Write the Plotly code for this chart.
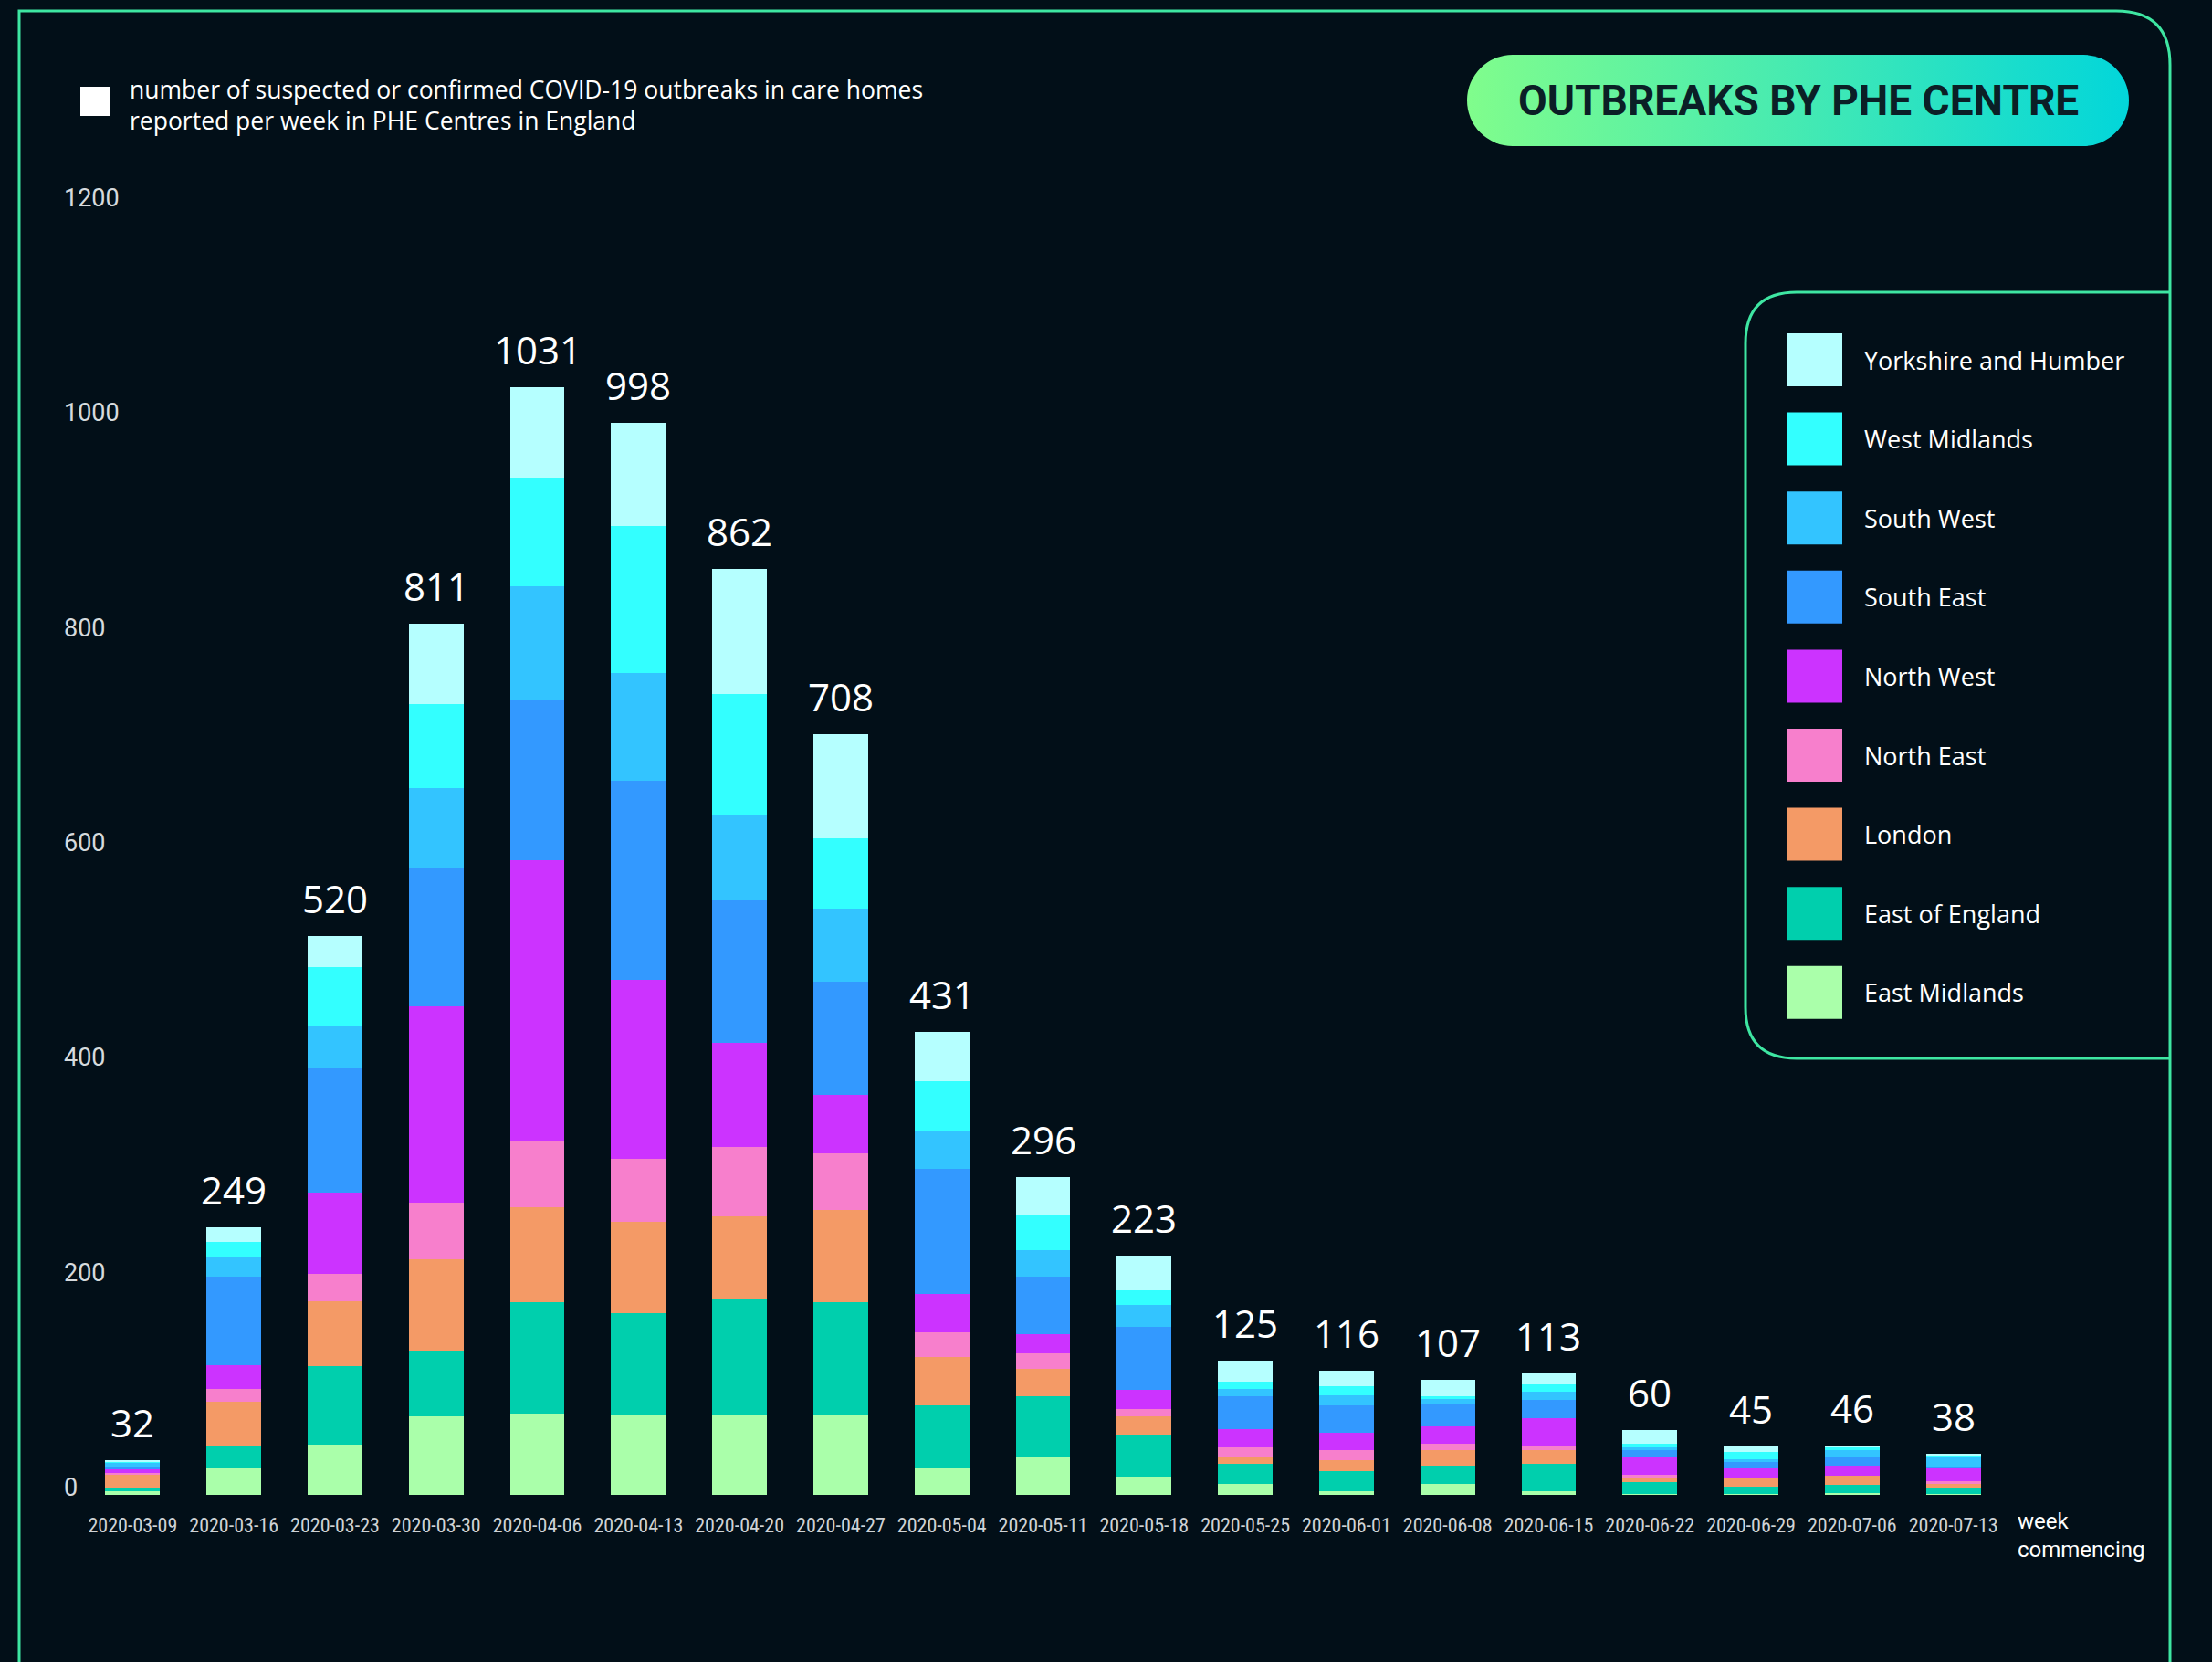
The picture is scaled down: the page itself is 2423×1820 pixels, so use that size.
import base64
import plotly.graph_objects as go

# ---------------- data ----------------
weeks = ["2020-03-09", "2020-03-16", "2020-03-23", "2020-03-30", "2020-04-06",
         "2020-04-13", "2020-04-20", "2020-04-27", "2020-05-04", "2020-05-11",
         "2020-05-18", "2020-05-25", "2020-06-01", "2020-06-08", "2020-06-15",
         "2020-06-22", "2020-06-29", "2020-07-06", "2020-07-13"]

east_midlands   = [3, 25, 47, 73, 76, 75, 74, 74, 25, 35, 17, 10, 3, 10, 3, 1, 1, 2, 1]
east_of_england = [4, 21, 73, 61, 103, 94, 108, 105, 58, 57, 39, 19, 19, 17, 26, 11, 7, 7, 5]
london          = [12, 41, 60, 85, 89, 85, 77, 86, 45, 25, 17, 7, 10, 15, 13, 3, 7, 9, 4]
north_east      = [1, 12, 26, 53, 62, 59, 65, 53, 23, 15, 7, 8, 10, 6, 4, 4, 0, 0, 3]
north_west      = [4, 22, 75, 183, 261, 166, 97, 54, 36, 18, 18, 17, 16, 16, 25, 16, 10, 9, 12]
south_east      = [2, 82, 116, 128, 149, 186, 132, 106, 116, 53, 58, 31, 25, 20, 17, 7, 6, 9, 1]
south_west      = [4, 19, 40, 75, 106, 100, 80, 68, 35, 25, 21, 7, 10, 5, 8, 2, 2, 6, 10]
west_midlands   = [1, 13, 54, 78, 101, 137, 112, 65, 47, 33, 13, 6, 8, 3, 7, 4, 7, 2, 1]
yorkshire       = [1, 14, 29, 75, 84, 96, 117, 97, 46, 35, 33, 20, 15, 15, 10, 12, 5, 2, 1]

region_names = ["East Midlands", "East of England", "London", "North East", "North West",
                "South East", "South West", "West Midlands", "Yorkshire and Humber"]
region_values = [east_midlands, east_of_england, london, north_east, north_west,
                 south_east, south_west, west_midlands, yorkshire]
region_colors = ["#aaffaa", "#00cfad", "#f49a66", "#f77fcc", "#cc33ff",
                 "#3399ff", "#33c4ff", "#33ffff", "#b5ffff"]

y_ticks = [0, 200, 400, 600, 800, 1000, 1200]

title_text = "OUTBREAKS BY PHE CENTRE"
subtitle_lines = ["number of suspected or confirmed COVID-19 outbreaks in care homes",
                  "reported per week in PHE Centres in England"]
x_caption = ["week", "commencing"]

# ---------------- layout geometry (pixels) ----------------
W, H = 2423, 1820
ML, MR, MT, MB = 90, 228, 225, 183
PW, PH = W - ML - MR, H - MT - MB
BG = "#020f18"
BORDER = "#3ee6a2"


def px(x):
    return (x - ML) / PW


def py(y):
    return (H - MB - y) / PH


totals = [sum(v[i] for v in region_values) for i in range(len(weeks))]

fig = go.Figure()
for name, vals, col in zip(region_names, region_values, region_colors):
    fig.add_trace(go.Bar(x=weeks, y=vals, name=name, marker=dict(color=col, line=dict(width=0)),
                         showlegend=False, hovertemplate=name + ": %{y}<extra></extra>"))

annotations = []
# totals above bars
for wk, tot in zip(weeks, totals):
    annotations.append(dict(x=wk, y=tot, xref="x", yref="y", text=str(tot), showarrow=False,
                            yanchor="bottom", yshift=11,
                            font=dict(family="Open Sans", size=42, color="#ffffff")))
# y tick labels (left aligned)
for t in y_ticks:
    annotations.append(dict(x=px(68), y=t, xref="paper", yref="y", text=str(t), showarrow=False,
                            xanchor="left", yanchor="middle", yshift=8,
                            font=dict(family="Roboto", size=27, color="#d6dadd")))
# subtitle (two lines in one text block)
annotations.append(dict(x=px(140), y=py(115), xref="paper", yref="paper", text="<br>".join(subtitle_lines),
                        showarrow=False, xanchor="left", yanchor="middle", align="left",
                        font=dict(family="Open Sans", size=26.5, color="#ffffff")))
# title
annotations.append(dict(x=px(1970), y=py(110), xref="paper", yref="paper", text="<b>" + title_text + "</b>",
                        showarrow=False, xanchor="center", yanchor="middle",
                        font=dict(family="Roboto", size=46, color="#0b1f26")))
# x caption
annotations.append(dict(x=px(2208), y=py(1681), xref="paper", yref="paper", text="<br>".join(x_caption),
                        showarrow=False, xanchor="left", yanchor="middle", align="left",
                        font=dict(family="Roboto", size=24, color="#ffffff")))

shapes = []
# custom legend (top = Yorkshire)
for k, idx in enumerate(reversed(range(len(region_names)))):
    y0 = 365 + 86.6 * k
    shapes.append(dict(type="rect", xref="paper", yref="paper", x0=px(1957), x1=px(2018),
                       y0=py(y0), y1=py(y0 + 58), fillcolor=region_colors[idx], line=dict(width=0)))
    annotations.append(dict(x=px(2040), y=py(y0 + 29), xref="paper", yref="paper",
                            text=region_names[idx], showarrow=False, xanchor="left", yanchor="middle",
                            font=dict(family="Open Sans", size=27, color="#ffffff")))

# subtitle white square
shapes.append(dict(type="rect", xref="paper", yref="paper", x0=px(88), x1=px(120), y0=py(95), y1=py(127),
                   fillcolor="#ffffff", line=dict(width=0)))


def P(x, y):
    return f"{px(x):.5f},{py(y):.5f}"


# outer frame (square top-left, rounded top-right, open bottom)
outer = (f"M{P(21, 1850)} L{P(21, 12)} L{P(2318, 12)} Q{P(2377, 12)} {P(2377, 71)} L{P(2377, 1850)}")
shapes.append(dict(type="path", xref="paper", yref="paper", path=outer, line=dict(color=BORDER, width=3),
                   layer="above"))
# legend box
lbox = (f"M{P(2377, 320)} L{P(1968, 320)} Q{P(1912, 320)} {P(1912, 376)} L{P(1912, 1103)} "
        f"Q{P(1912, 1159)} {P(1968, 1159)} L{P(2377, 1159)}")
shapes.append(dict(type="path", xref="paper", yref="paper", path=lbox, line=dict(color=BORDER, width=3),
                   layer="above"))

# gradient pill behind the title
svg = ('<svg xmlns="http://www.w3.org/2000/svg" width="725" height="100" viewBox="0 0 725 100">'
       '<defs><linearGradient id="g" x1="0" x2="1" y1="0" y2="0">'
       '<stop offset="0" stop-color="#80fd8c"/><stop offset="0.5" stop-color="#45eab2"/>'
       '<stop offset="1" stop-color="#02d6da"/></linearGradient></defs>'
       '<rect x="0" y="0" width="725" height="100" rx="50" ry="50" fill="url(#g)"/></svg>')
src = "data:image/svg+xml;base64," + base64.b64encode(svg.encode()).decode()
images = [dict(source=src, xref="paper", yref="paper", x=px(1607), y=py(60), sizex=725 / PW, sizey=100 / PH,
               xanchor="left", yanchor="top", sizing="stretch", layer="above")]

fig.update_layout(
    width=W, height=H, autosize=False,
    margin=dict(l=ML, r=MR, t=MT, b=MB),
    paper_bgcolor=BG, plot_bgcolor=BG,
    barmode="stack", bargap=0.46,
    xaxis=dict(type="category", showgrid=False, zeroline=False, showline=False, ticks="",
               ticklabelstandoff=18,
               tickfont=dict(family="Liberation Sans Narrow, Roboto Condensed, DejaVu Sans Condensed, Roboto",
                             size=22, color="#cfd3d6")),
    yaxis=dict(range=[0, 1200], showgrid=False, zeroline=False, showline=False, showticklabels=False,
               ticks=""),
    annotations=annotations, shapes=shapes, images=images,
    showlegend=False,
)

fig.write_html("out.html", config={"displayModeBar": False},
               post_script="document.body.style.margin='0';document.body.style.overflow='hidden';"
                           "document.body.style.background='" + BG + "';")
